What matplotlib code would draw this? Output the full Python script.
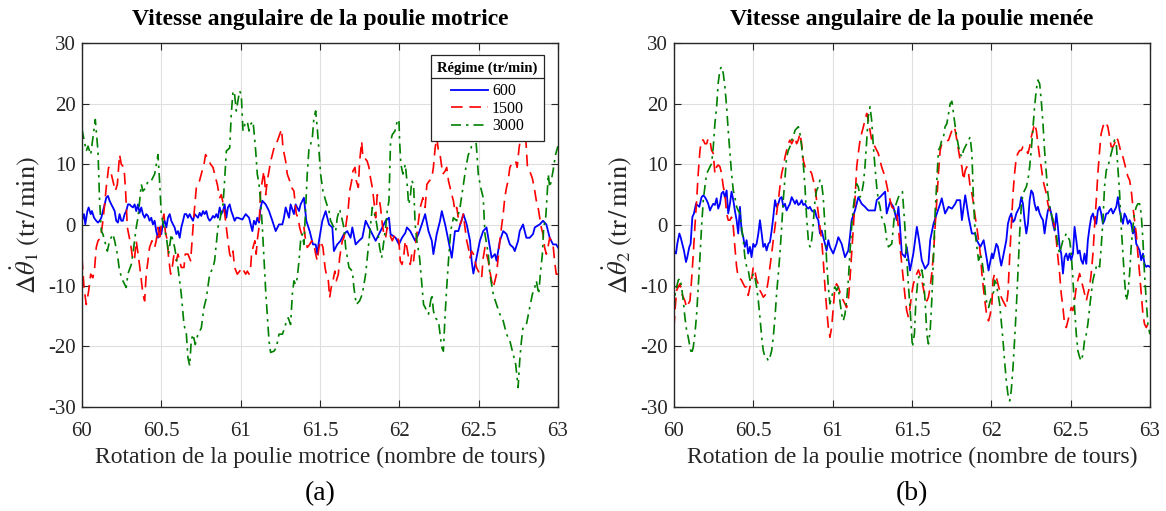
import matplotlib
matplotlib.use('Agg')
import matplotlib.pyplot as plt
from matplotlib.lines import Line2D

plt.rcParams['font.family'] = ['Liberation Serif', 'DejaVu Serif']
plt.rcParams['mathtext.fontset'] = 'stix'
plt.rcParams['axes.unicode_minus'] = False

# ---------------- data (rotation [tours], delta speed [tr/min]) ----------------
series_labels = ['600', '1500', '3000']
x_ticks = [60, 60.5, 61, 61.5, 62, 62.5, 63]
x_tick_labels = ['60', '60.5', '61', '61.5', '62', '62.5', '63']
y_ticks = [-30, -20, -10, 0, 10, 20, 30]

# (a) poulie motrice
a_600 = [(60.000,0.7),(60.013,1.8),(60.021,0.1),(60.034,2.3),(60.042,2.9),(60.055,1.8),(60.063,2.3),(60.076,1.2),(60.090,0.7),(60.101,0.4),(60.111,0.7),(60.122,1.2),(60.132,2.3),(60.143,3.4),(60.153,4.5),(60.164,4.8),(60.174,4.0),(60.185,3.4),(60.195,2.9),(60.206,2.3),(60.216,0.7),(60.227,0.4),(60.237,1.8),(60.248,0.7),(60.258,0.7),(60.269,1.8),(60.279,2.3),(60.290,3.4),(60.300,3.4),(60.311,3.1),(60.321,2.9),(60.332,3.4),(60.342,2.3),(60.353,3.4),(60.363,2.0),(60.374,2.9),(60.384,1.8),(60.395,1.2),(60.405,1.8),(60.416,1.5),(60.426,0.7),(60.437,1.2),(60.447,0.1),(60.458,0.7),(60.468,-1.0),(60.479,-2.1),(60.489,-0.4),(60.500,-1.5),(60.510,0.1),(60.521,0.7),(60.532,-0.4),(60.542,1.2),(60.553,1.8),(60.563,0.7),(60.574,0.1),(60.584,-0.4),(60.595,-1.5),(60.605,-1.0),(60.616,-2.1),(60.626,-0.4),(60.637,0.7),(60.647,1.8),(60.658,1.8),(60.668,1.2),(60.679,1.8),(60.689,1.2),(60.700,0.7),(60.710,1.8),(60.721,1.5),(60.731,1.2),(60.742,2.0),(60.752,1.5),(60.763,2.3),(60.773,1.8),(60.784,2.3),(60.794,1.2),(60.805,0.7),(60.815,1.0),(60.826,1.5),(60.836,1.2),(60.847,1.8),(60.857,1.2),(60.868,2.9),(60.878,1.8),(60.889,2.3),(60.899,3.4),(60.910,1.2),(60.920,2.9),(60.931,3.4),(60.941,2.3),(60.952,1.5),(60.962,0.7),(60.973,1.2),(60.983,1.2),
         (61.011,0.9),(61.032,1.8),(61.053,1.2),(61.074,-1.0),(61.084,0.7),(61.095,0.1),(61.105,1.2),(61.116,0.4),(61.126,2.9),(61.137,4.0),(61.158,3.4),(61.179,2.3),(61.200,0.7),(61.221,-1.0),(61.242,0.1),(61.263,0.1),(61.273,1.2),(61.284,2.9),(61.305,1.2),(61.315,3.4),(61.336,1.8),(61.347,3.4),(61.368,2.3),(61.378,3.4),(61.399,4.5),(61.414,0.7),(61.435,-1.0),(61.456,-3.2),(61.473,-3.2),(61.483,-4.8),(61.494,-2.6),(61.515,0.7),(61.536,2.3),(61.557,0.1),(61.578,-0.4),(61.588,-4.3),(61.609,-3.2),(61.630,-2.6),(61.651,-1.5),(61.672,-1.0),(61.693,-2.1),(61.704,-0.4),(61.725,-3.2),(61.746,-2.6),(61.767,-2.1),(61.788,0.7),(61.809,-0.4),(61.830,-1.5),(61.851,-2.6),(61.872,-1.5),(61.893,-0.4),(61.914,0.7),(61.935,1.2),(61.945,-1.5),(61.977,-2.1),(61.998,-3.2),
         (62.017,-2.1),(62.038,-1.3),(62.048,-0.4),(62.069,-1.0),(62.090,-2.1),(62.100,-2.6),(62.121,-1.5),(62.142,0.1),(62.163,1.8),(62.184,-1.0),(62.205,-2.6),(62.215,-4.8),(62.236,-1.5),(62.257,0.7),(62.268,2.3),(62.289,0.1),(62.310,-2.6),(62.331,-5.4),(62.351,-1.0),(62.372,-1.0),(62.404,1.8),(62.425,0.1),(62.446,-2.6),(62.456,-5.9),(62.467,-8.0),(62.487,-5.4),(62.508,-2.6),(62.529,-1.0),(62.550,-0.4),(62.571,-3.7),(62.582,-5.4),(62.603,-4.8),(62.613,-5.9),(62.634,-2.6),(62.655,-1.0),(62.676,-1.5),(62.697,-3.2),(62.718,-3.7),(62.728,-4.3),(62.749,-2.6),(62.759,-1.0),(62.780,0.1),(62.801,-2.1),(62.822,-2.1),(62.843,-1.5),(62.854,-0.4),(62.885,0.1),(62.906,0.7),(62.927,0.1),(62.948,-2.1),(62.969,-3.2),(62.989,-3.2),(63.000,-3.7)]

a_1500 = [(60.000,-5.4),(60.013,-10.3),(60.027,-13.1),(60.042,-10.9),(60.055,-8.1),(60.069,-8.7),(60.080,-7.0),(60.090,-3.7),(60.101,-2.6),(60.118,-2.1),(60.132,0.7),(60.143,3.4),(60.153,6.2),(60.168,9.5),(60.185,8.4),(60.195,7.3),(60.210,5.6),(60.223,6.7),(60.237,11.6),(60.248,10.0),(60.265,9.5),(60.275,5.6),(60.286,-0.4),(60.294,-1.5),(60.307,-3.2),(60.321,-5.9),(60.332,-5.4),(60.342,-2.6),(60.357,-5.4),(60.370,-8.1),(60.384,-11.4),(60.395,-12.5),(60.405,-8.1),(60.416,-5.9),(60.426,-3.7),(60.441,-2.6),(60.458,-3.7),(60.468,-2.6),(60.479,-0.4),(60.489,-2.6),(60.500,0.1),(60.517,1.8),(60.525,-1.0),(60.538,-2.6),(60.546,-5.4),(60.559,-8.1),(60.569,-7.0),(60.580,-4.8),(60.595,-5.9),(60.605,-4.8),(60.616,-5.9),(60.626,-7.0),(60.643,-7.0),(60.651,-4.8),(60.668,-4.8),(60.685,-5.9),(60.700,-0.4),(60.710,2.9),(60.721,6.2),(60.735,6.7),(60.752,8.4),(60.769,10.0),(60.779,11.6),(60.794,11.0),(60.811,10.0),(60.826,9.5),(60.836,8.4),(60.853,6.7),(60.868,4.5),(60.878,5.0),(60.895,2.9),(60.910,-0.4),(60.920,-2.6),(60.931,-4.8),(60.941,-5.4),(60.952,-4.3),(60.962,-7.0),(60.979,-8.1),(60.994,-7.6),
          (61.011,-7.0),(61.021,-7.6),(61.032,-8.1),(61.042,-7.6),(61.053,-8.1),(61.063,-7.0),(61.069,-4.8),(61.078,-3.7),(61.090,-2.6),(61.098,-4.8),(61.107,-2.1),(61.116,-0.4),(61.126,5.6),(61.137,7.3),(61.147,8.9),(61.158,5.0),(61.168,7.3),(61.179,8.9),(61.189,10.5),(61.200,11.6),(61.216,13.3),(61.231,13.8),(61.246,14.9),(61.258,15.8),(61.267,12.7),(61.284,10.5),(61.294,8.4),(61.309,7.3),(61.321,6.2),(61.336,5.6),(61.342,4.0),(61.351,1.8),(61.363,1.2),(61.372,-0.4),(61.384,-1.5),(61.399,-0.4),(61.410,-2.6),(61.420,-3.7),(61.435,-3.2),(61.448,-2.6),(61.462,-3.2),(61.473,-4.8),(61.483,-5.9),(61.494,-3.7),(61.504,-2.6),(61.519,-3.7),(61.532,-7.0),(61.540,-8.1),(61.553,-9.2),(61.561,-12.0),(61.574,-9.8),(61.582,-9.2),(61.594,-7.6),(61.603,-9.2),(61.616,-8.1),(61.624,-5.4),(61.641,-2.6),(61.651,-2.1),(61.662,-0.4),(61.679,2.9),(61.687,5.6),(61.700,7.3),(61.708,8.9),(61.721,9.5),(61.729,7.3),(61.742,6.2),(61.750,10.5),(61.763,13.8),(61.771,11.0),(61.784,11.0),(61.798,10.5),(61.809,9.5),(61.819,7.7),(61.830,6.2),(61.840,4.0),(61.851,1.2),(61.861,5.0),(61.872,4.5),(61.882,2.9),(61.893,0.1),(61.903,-1.5),(61.914,-2.1),(61.924,-0.4),(61.939,-1.5),(61.956,-2.6),(61.973,-1.5),(61.987,-2.1),(61.998,-2.6),
          (62.006,-5.9),(62.017,-6.5),(62.027,-5.4),(62.038,-2.6),(62.048,-3.7),(62.059,-5.4),(62.069,-6.5),(62.079,-4.8),(62.090,-5.9),(62.100,-3.7),(62.111,-1.5),(62.121,0.7),(62.132,2.9),(62.149,4.5),(62.163,2.9),(62.174,6.7),(62.190,7.3),(62.205,7.7),(62.215,9.5),(62.226,12.7),(62.236,14.4),(62.247,12.2),(62.257,11.6),(62.274,8.4),(62.289,8.9),(62.299,9.5),(62.310,7.3),(62.320,6.2),(62.331,5.0),(62.341,4.0),(62.351,2.3),(62.362,2.9),(62.372,1.2),(62.383,0.1),(62.393,0.7),(62.404,1.8),(62.414,-0.4),(62.425,-2.6),(62.435,-3.7),(62.446,-5.4),(62.456,-4.3),(62.467,-4.8),(62.477,-5.9),(62.487,-7.0),(62.498,-7.6),(62.508,-8.1),(62.519,-8.7),(62.529,-5.4),(62.540,-3.7),(62.550,-4.8),(62.561,-5.9),(62.571,-7.6),(62.582,-9.2),(62.592,-10.3),(62.603,-9.2),(62.613,-8.1),(62.623,-5.4),(62.634,-2.6),(62.644,-0.4),(62.655,1.8),(62.665,4.5),(62.676,6.2),(62.686,7.3),(62.697,9.5),(62.707,10.0),(62.722,10.0),(62.734,10.5),(62.743,9.5),(62.755,12.7),(62.766,14.4),(62.776,16.0),(62.787,15.5),(62.797,14.4),(62.808,9.5),(62.822,8.9),(62.839,7.7),(62.854,5.6),(62.864,4.0),(62.875,2.9),(62.885,1.2),(62.895,-0.4),(62.906,-1.5),(62.916,-3.7),(62.927,-4.8),(62.937,-3.7),(62.948,-2.1),(62.958,-2.6),(62.969,-3.2),(62.979,-5.9),(62.989,-8.1),(63.000,-8.1)]

a_3000 = [(60.000,15.8),(60.027,12.2),(60.038,13.0),(60.055,11.6),(60.084,17.4),(60.101,12.1),(60.111,4.0),(60.122,-1.0),(60.132,-1.5),(60.143,-2.6),(60.160,-4.3),(60.174,-2.6),(60.195,-1.5),(60.206,-2.6),(60.223,-4.8),(60.237,-7.6),(60.258,-9.2),(60.279,-10.3),(60.290,-8.0),(60.311,-6.5),(60.321,-4.8),(60.342,-0.4),(60.353,1.2),(60.374,6.7),(60.384,5.6),(60.405,6.2),(60.416,7.3),(60.437,7.3),(60.458,8.4),(60.479,11.6),(60.489,7.3),(60.500,1.8),(60.517,-0.4),(60.532,-2.0),(60.546,-4.8),(60.563,-1.5),(60.574,-2.6),(60.584,-3.7),(60.605,-7.0),(60.626,-11.4),(60.643,-16.4),(60.658,-18.0),(60.668,-21.9),(60.679,-23.2),(60.689,-19.0),(60.700,-18.0),(60.714,-19.7),(60.731,-18.0),(60.752,-17.0),(60.769,-13.6),(60.784,-12.0),(60.805,-8.1),(60.826,-7.0),(60.836,-5.9),(60.857,-0.4),(60.868,0.7),(60.889,3.4),(60.899,7.3),(60.910,12.2),(60.931,12.7),(60.941,18.2),(60.952,22.1),(60.962,21.5),(60.973,18.8),(60.983,20.5),(60.994,22.1),(61.004,21.5),
          (61.015,15.5),(61.027,16.6),(61.042,17.1),(61.053,15.5),(61.063,16.6),(61.078,17.1),(61.084,15.5),(61.095,12.2),(61.105,8.4),(61.116,6.7),(61.126,4.0),(61.137,-0.4),(61.147,-5.4),(61.158,-10.9),(61.168,-14.7),(61.179,-19.1),(61.189,-21.0),(61.210,-20.8),(61.225,-20.2),(61.242,-18.0),(61.263,-18.0),(61.279,-16.9),(61.288,-15.8),(61.300,-15.3),(61.315,-16.4),(61.326,-11.4),(61.336,-9.2),(61.347,-9.8),(61.357,-8.7),(61.368,-5.9),(61.378,-2.6),(61.389,-1.5),(61.399,-3.2),(61.410,2.9),(61.420,8.4),(61.431,12.7),(61.441,13.3),(61.452,14.4),(61.462,17.7),(61.473,18.8),(61.483,16.0),(61.494,12.2),(61.504,8.4),(61.519,5.6),(61.536,4.0),(61.557,2.3),(61.567,0.7),(61.588,-0.4),(61.599,-1.0),(61.609,1.2),(61.624,2.6),(61.637,1.2),(61.651,-0.4),(61.662,-3.7),(61.683,-7.0),(61.704,-7.6),(61.714,-10.3),(61.729,-13.1),(61.750,-12.5),(61.767,-11.4),(61.788,-8.1),(61.805,-3.7),(61.819,0.1),(61.830,2.9),(61.851,1.2),(61.861,-0.4),(61.876,-3.7),(61.889,-5.4),(61.903,-2.6),(61.914,-0.4),(61.924,2.3),(61.935,4.0),(61.945,13.8),(61.956,14.9),(61.973,15.5),(61.987,17.1),(61.998,17.4),
          (62.002,13.8),(62.010,10.0),(62.023,8.4),(62.038,10.0),(62.048,7.3),(62.059,3.4),(62.069,4.5),(62.079,7.3),(62.090,6.7),(62.100,0.1),(62.111,-2.6),(62.128,-5.4),(62.142,-9.8),(62.153,-13.1),(62.163,-13.6),(62.184,-14.7),(62.205,-11.4),(62.215,-14.1),(62.226,-15.3),(62.247,-15.8),(62.257,-18.0),(62.268,-20.2),(62.278,-20.8),(62.289,-14.7),(62.299,-10.3),(62.310,-5.9),(62.324,-1.0),(62.341,1.2),(62.362,0.7),(62.383,2.9),(62.404,6.7),(62.420,9.5),(62.435,11.6),(62.450,12.2),(62.467,14.9),(62.477,15.5),(62.487,12.7),(62.498,8.4),(62.513,6.2),(62.529,4.5),(62.540,-1.5),(62.561,-4.8),(62.571,-8.1),(62.592,-11.4),(62.613,-13.1),(62.634,-14.7),(62.655,-15.8),(62.676,-18.0),(62.697,-19.1),(62.718,-21.3),(62.734,-23.0),(62.749,-26.8),(62.759,-22.4),(62.770,-19.1),(62.780,-16.9),(62.801,-16.4),(62.822,-13.6),(62.839,-11.4),(62.854,-10.3),(62.864,-9.2),(62.879,-11.4),(62.889,-8.1),(62.902,-4.8),(62.910,-0.4),(62.923,1.2),(62.931,4.5),(62.939,8.4),(62.948,6.2),(62.958,7.3),(62.969,8.9),(62.985,11.6),(63.000,13.0)]

# (b) poulie menee
b_600 = [(60.000,-4.2),(60.013,-4.7),(60.021,-3.1),(60.034,-1.4),(60.042,-2.0),(60.055,-3.4),(60.063,-4.2),(60.076,-6.1),(60.084,-5.3),(60.097,-3.6),(60.105,-3.1),(60.116,1.3),(60.126,1.9),(60.139,3.5),(60.147,3.3),(60.160,3.0),(60.174,4.6),(60.185,4.9),(60.195,4.6),(60.206,4.1),(60.216,3.5),(60.227,2.4),(60.237,3.0),(60.248,3.5),(60.258,3.3),(60.269,4.4),(60.279,2.7),(60.290,3.5),(60.300,5.2),(60.311,5.5),(60.321,4.6),(60.332,5.7),(60.342,1.9),(60.353,3.5),(60.363,5.5),(60.374,4.1),(60.384,2.4),(60.395,0.8),(60.405,-1.4),(60.416,3.0),(60.426,-0.9),(60.437,-2.0),(60.447,-3.6),(60.458,-2.5),(60.468,-4.7),(60.479,-3.6),(60.489,-5.3),(60.500,-3.1),(60.510,-3.6),(60.521,-3.1),(60.532,-1.4),(60.542,0.8),(60.553,-1.4),(60.563,-3.6),(60.574,-3.1),(60.584,-4.2),(60.595,-3.1),(60.605,-2.8),(60.616,-0.9),(60.626,1.3),(60.637,4.1),(60.647,3.0),(60.658,3.5),(60.668,4.4),(60.679,4.6),(60.689,3.0),(60.700,3.5),(60.710,2.4),(60.721,3.0),(60.731,3.5),(60.742,4.6),(60.752,4.1),(60.763,3.5),(60.773,4.1),(60.784,3.3),(60.794,3.5),(60.805,4.1),(60.815,3.3),(60.826,3.5),(60.836,3.0),(60.847,2.7),(60.857,3.0),(60.868,2.4),(60.878,2.2),(60.889,2.4),(60.899,1.3),(60.910,0.8),(60.920,-1.4),(60.931,-0.9),(60.941,-2.0),(60.952,-3.1),(60.962,-4.2),(60.973,-2.5),(60.983,-3.6),(60.994,-4.2),(61.004,-4.7),
         (61.025,-3.1),(61.036,-2.0),(61.057,-3.1),(61.078,-5.3),(61.099,-4.2),(61.109,-2.0),(61.120,0.8),(61.141,2.4),(61.162,4.6),(61.183,3.5),(61.204,3.0),(61.225,2.4),(61.246,2.4),(61.267,2.4),(61.278,4.1),(61.299,4.6),(61.320,5.2),(61.331,5.5),(61.341,1.9),(61.362,3.8),(61.383,3.0),(61.404,0.8),(61.415,3.0),(61.425,-0.3),(61.436,-4.7),(61.457,-5.3),(61.467,-3.6),(61.488,-7.5),(61.509,-4.7),(61.520,-2.5),(61.531,-0.3),(61.545,-2.5),(61.562,-5.8),(61.583,-7.2),(61.604,-6.4),(61.615,-2.5),(61.636,0.2),(61.657,1.9),(61.678,3.5),(61.688,4.4),(61.709,1.9),(61.731,3.0),(61.752,2.7),(61.773,3.5),(61.783,4.1),(61.804,4.1),(61.815,0.8),(61.836,4.9),(61.857,1.3),(61.878,-1.4),(61.899,-1.4),(61.909,-2.5),(61.931,-3.6),(61.952,-2.5),(61.973,-5.8),(61.983,-7.5),(62.004,-4.7),
         (62.011,-5.5),(62.021,-4.4),(62.032,-3.1),(62.042,-3.6),(62.053,-5.3),(62.063,-6.7),(62.074,-5.3),(62.095,-2.5),(62.105,0.2),(62.116,1.3),(62.126,1.9),(62.137,0.5),(62.147,0.8),(62.158,1.9),(62.179,3.0),(62.189,4.6),(62.200,3.5),(62.210,0.8),(62.221,-1.4),(62.231,0.2),(62.242,4.1),(62.252,5.7),(62.263,5.2),(62.273,3.5),(62.284,2.4),(62.294,3.0),(62.305,1.9),(62.315,1.3),(62.326,0.8),(62.336,-1.4),(62.347,0.8),(62.357,2.4),(62.368,3.0),(62.378,1.9),(62.389,0.2),(62.399,-0.9),(62.410,1.9),(62.420,-0.3),(62.431,-3.6),(62.441,-4.7),(62.452,-8.0),(62.462,-5.3),(62.473,-4.7),(62.483,-5.8),(62.494,-4.7),(62.504,-5.8),(62.515,-4.7),(62.525,-0.3),(62.536,-2.5),(62.546,-4.7),(62.557,-4.2),(62.567,-5.8),(62.578,-6.4),(62.588,-4.7),(62.599,-6.4),(62.609,-2.5),(62.620,-0.3),(62.630,1.3),(62.641,1.9),(62.651,0.8),(62.662,0.2),(62.672,2.4),(62.683,3.0),(62.693,1.9),(62.704,0.2),(62.714,0.8),(62.725,1.9),(62.735,1.9),(62.746,2.4),(62.756,2.7),(62.767,1.9),(62.777,2.4),(62.788,3.0),(62.798,4.6),(62.809,2.4),(62.819,1.3),(62.830,0.2),(62.840,1.9),(62.851,1.3),(62.861,0.2),(62.872,0.8),(62.882,0.2),(62.893,-1.4),(62.903,-0.3),(62.914,-3.1),(62.924,-3.6),(62.935,-4.2),(62.945,-5.8),(62.956,-4.7),(62.966,-6.4),(62.977,-6.9),(62.987,-6.7),(63.000,-6.9)]

b_1500 = [(60.000,-16.9),(60.008,-13.6),(60.017,-10.8),(60.027,-10.2),(60.038,-9.7),(60.048,-11.3),(60.059,-11.9),(60.069,-12.5),(60.080,-13.6),(60.090,-13.0),(60.101,-12.5),(60.111,-9.1),(60.122,-4.7),(60.132,-0.3),(60.143,4.1),(60.153,8.5),(60.164,12.3),(60.174,14.0),(60.185,14.0),(60.195,13.4),(60.206,13.4),(60.216,14.3),(60.227,14.0),(60.237,12.3),(60.248,11.8),(60.258,8.5),(60.269,9.6),(60.279,9.9),(60.290,9.6),(60.300,8.5),(60.311,6.3),(60.321,5.2),(60.332,1.9),(60.342,0.8),(60.353,0.8),(60.363,1.3),(60.374,-0.3),(60.384,-3.6),(60.395,-6.9),(60.405,-8.6),(60.416,-8.8),(60.426,-9.1),(60.437,-9.7),(60.447,-10.2),(60.458,-10.2),(60.468,-11.6),(60.479,-10.2),(60.489,-9.1),(60.500,-6.9),(60.510,-7.5),(60.521,-9.1),(60.532,-9.7),(60.542,-10.8),(60.553,-11.3),(60.563,-11.9),(60.574,-11.6),(60.584,-10.8),(60.595,-9.1),(60.605,-6.9),(60.616,-4.7),(60.626,-2.5),(60.637,-0.3),(60.647,1.9),(60.658,4.1),(60.668,6.3),(60.679,8.5),(60.689,9.6),(60.700,11.2),(60.710,12.3),(60.721,13.4),(60.731,14.0),(60.742,13.4),(60.752,14.0),(60.763,14.5),(60.773,13.4),(60.784,14.0),(60.794,15.1),(60.805,13.4),(60.815,10.7),(60.826,9.6),(60.836,9.6),(60.847,9.4),(60.857,9.0),(60.868,8.5),(60.878,7.4),(60.889,6.3),(60.899,4.1),(60.910,1.9),(60.920,-0.3),(60.931,-2.5),(60.941,-5.8),(60.952,-10.2),(60.962,-13.6),(60.973,-16.9),(60.983,-18.5),(60.994,-16.9),(61.004,-13.6),(61.015,-10.2),(61.025,-9.7),
          (61.036,-10.2),(61.057,-11.9),(61.078,-13.0),(61.088,-13.6),(61.099,-12.5),(61.109,-9.1),(61.120,-4.7),(61.131,-0.3),(61.141,4.1),(61.152,9.6),(61.162,11.8),(61.173,14.0),(61.183,15.1),(61.194,16.2),(61.204,17.3),(61.215,18.4),(61.225,17.3),(61.236,15.6),(61.246,14.0),(61.257,13.4),(61.267,12.9),(61.288,11.8),(61.309,9.6),(61.331,7.9),(61.352,5.2),(61.373,3.0),(61.394,2.4),(61.404,1.9),(61.415,-0.3),(61.425,-3.6),(61.436,-6.4),(61.446,-9.1),(61.457,-11.9),(61.467,-14.1),(61.478,-15.2),(61.488,-13.6),(61.499,-11.3),(61.509,-9.7),(61.531,-8.0),(61.541,-7.4),(61.562,-9.1),(61.583,-11.9),(61.594,-12.5),(61.604,-11.9),(61.615,-10.2),(61.625,-8.0),(61.636,-4.7),(61.646,-0.3),(61.657,4.1),(61.667,8.5),(61.678,12.3),(61.688,13.4),(61.709,13.7),(61.731,14.0),(61.752,15.6),(61.762,16.2),(61.773,15.6),(61.783,14.0),(61.794,12.3),(61.804,10.7),(61.815,9.6),(61.825,7.4),(61.836,9.0),(61.846,9.6),(61.857,8.5),(61.867,6.3),(61.878,5.2),(61.888,3.5),(61.899,1.3),(61.909,-0.3),(61.920,-2.5),(61.931,-4.7),(61.941,-8.0),(61.952,-10.8),(61.962,-13.0),(61.973,-15.2),(61.983,-15.8),(61.994,-14.7),(62.004,-13.0),
          (62.011,-9.1),(62.021,-8.0),(62.032,-8.6),(62.042,-9.7),(62.053,-10.8),(62.063,-11.9),(62.074,-12.5),(62.084,-13.0),(62.095,-13.6),(62.105,-11.3),(62.116,-5.3),(62.126,-0.3),(62.137,5.2),(62.147,8.5),(62.158,11.2),(62.168,11.8),(62.179,12.3),(62.189,12.3),(62.200,12.9),(62.210,12.9),(62.221,12.3),(62.231,11.8),(62.242,12.9),(62.252,14.5),(62.263,15.6),(62.273,16.7),(62.284,15.6),(62.294,13.4),(62.305,11.2),(62.315,9.6),(62.326,7.4),(62.336,6.3),(62.347,5.2),(62.357,3.5),(62.368,2.4),(62.378,1.9),(62.389,0.8),(62.399,-0.3),(62.410,-2.5),(62.420,-5.3),(62.431,-8.0),(62.441,-11.3),(62.452,-13.6),(62.462,-16.3),(62.473,-16.9),(62.483,-15.8),(62.494,-14.7),(62.504,-13.6),(62.515,-14.1),(62.525,-12.5),(62.536,-10.2),(62.546,-9.1),(62.557,-8.0),(62.567,-9.1),(62.578,-10.2),(62.588,-11.3),(62.599,-12.5),(62.609,-11.3),(62.620,-10.2),(62.630,-8.0),(62.641,-4.7),(62.651,-0.3),(62.662,4.1),(62.672,8.5),(62.683,12.3),(62.693,15.1),(62.704,16.2),(62.714,17.0),(62.725,16.7),(62.735,16.2),(62.746,14.5),(62.756,12.9),(62.767,12.9),(62.777,13.4),(62.788,14.5),(62.798,14.0),(62.809,12.9),(62.819,11.8),(62.830,11.2),(62.840,10.2),(62.851,9.0),(62.861,8.0),(62.872,7.4),(62.882,5.8),(62.893,3.0),(62.903,0.8),(62.914,-1.4),(62.924,-4.7),(62.935,-8.0),(62.945,-11.3),(62.956,-14.7),(62.966,-16.3),(62.977,-16.9),(62.987,-16.3),(63.000,-16.9)]

b_3000 = [(60.000,-14.1),(60.008,-11.3),(60.017,-10.2),(60.027,-9.1),(60.038,-8.8),(60.048,-10.2),(60.059,-12.5),(60.069,-15.2),(60.080,-17.4),(60.090,-18.5),(60.101,-20.1),(60.111,-21.3),(60.122,-20.1),(60.132,-18.0),(60.143,-14.7),(60.153,-10.2),(60.164,-5.3),(60.174,-0.3),(60.185,4.1),(60.195,6.3),(60.206,8.5),(60.216,9.0),(60.227,9.6),(60.237,10.1),(60.248,12.9),(60.258,16.7),(60.269,19.5),(60.279,23.4),(60.290,25.6),(60.300,26.1),(60.311,25.0),(60.321,22.8),(60.332,19.5),(60.342,15.6),(60.353,11.8),(60.363,8.5),(60.374,5.7),(60.384,4.6),(60.395,3.0),(60.405,2.4),(60.416,1.9),(60.426,-0.3),(60.437,-2.5),(60.447,-5.3),(60.458,-6.9),(60.468,-7.4),(60.479,-9.1),(60.489,-9.1),(60.500,-8.0),(60.510,-8.6),(60.521,-10.2),(60.532,-12.5),(60.542,-15.2),(60.553,-18.5),(60.563,-20.7),(60.574,-21.8),(60.584,-21.8),(60.595,-22.4),(60.605,-21.8),(60.616,-20.7),(60.626,-18.5),(60.637,-15.2),(60.647,-11.3),(60.658,-8.0),(60.668,-4.7),(60.679,-0.3),(60.689,4.1),(60.700,7.9),(60.710,11.2),(60.721,12.3),(60.731,12.9),(60.742,14.0),(60.752,14.5),(60.763,15.6),(60.773,15.9),(60.784,16.2),(60.794,15.1),(60.805,12.9),(60.815,10.1),(60.826,6.3),(60.836,1.3),(60.847,-2.5),(60.857,-3.6),(60.868,-2.5),(60.878,0.2),(60.889,4.1),(60.899,5.7),(60.910,6.3),(60.920,7.4),(60.931,6.8),(60.941,4.6),(60.952,-0.3),(60.962,-5.8),(60.973,-10.2),(60.983,-13.0),(60.994,-11.9),(61.004,-10.8),(61.015,-10.2),(61.025,-10.8),
          (61.036,-10.2),(61.046,-12.5),(61.057,-14.7),(61.067,-15.8),(61.078,-14.7),(61.088,-12.5),(61.099,-9.1),(61.109,-4.7),(61.120,-0.3),(61.131,3.0),(61.141,5.2),(61.152,6.8),(61.162,6.3),(61.173,4.6),(61.183,5.2),(61.194,6.8),(61.204,9.6),(61.215,14.0),(61.225,17.9),(61.236,19.5),(61.246,17.3),(61.257,12.9),(61.267,9.6),(61.278,6.3),(61.288,4.1),(61.299,3.0),(61.309,1.3),(61.320,0.8),(61.331,-0.3),(61.341,-2.5),(61.352,-3.6),(61.373,-3.1),(61.383,-0.3),(61.394,3.0),(61.415,4.6),(61.440,5.5),(61.453,0.8),(61.467,-5.3),(61.478,-10.0),(61.488,-13.6),(61.503,-20.1),(61.516,-17.9),(61.524,-13.0),(61.537,-9.1),(61.552,-8.0),(61.562,-7.4),(61.573,-9.1),(61.583,-12.5),(61.594,-18.0),(61.604,-19.6),(61.615,-17.4),(61.625,-12.5),(61.636,-5.3),(61.646,1.9),(61.657,7.4),(61.667,12.3),(61.678,12.9),(61.688,14.0),(61.699,14.5),(61.709,16.2),(61.720,16.7),(61.731,18.4),(61.741,20.0),(61.752,20.4),(61.762,18.4),(61.773,16.2),(61.783,14.5),(61.794,12.9),(61.804,11.8),(61.815,11.2),(61.825,12.3),(61.836,12.9),(61.846,13.4),(61.857,14.0),(61.867,14.5),(61.878,11.8),(61.888,4.1),(61.899,-1.4),(61.909,-3.6),(61.920,-5.8),(61.931,-4.7),(61.941,-5.8),(61.952,-8.0),(61.962,-11.3),(61.973,-13.0),(61.983,-13.6),(61.994,-12.5),
          (62.015,-11.0),(62.021,-9.1),(62.032,-9.7),(62.042,-11.3),(62.053,-13.0),(62.063,-15.8),(62.074,-19.0),(62.084,-22.4),(62.095,-25.7),(62.105,-27.9),(62.116,-29.0),(62.126,-27.3),(62.137,-23.5),(62.147,-19.0),(62.158,-13.6),(62.168,-8.0),(62.179,-1.4),(62.189,3.0),(62.200,5.2),(62.210,5.7),(62.221,6.3),(62.231,7.4),(62.242,9.6),(62.252,12.3),(62.263,16.2),(62.273,19.5),(62.284,22.3),(62.294,23.9),(62.305,23.3),(62.315,20.6),(62.326,16.7),(62.336,12.3),(62.347,8.5),(62.357,5.2),(62.368,3.0),(62.378,1.9),(62.389,0.8),(62.399,-0.3),(62.410,-1.4),(62.420,-3.6),(62.431,-4.7),(62.441,-3.6),(62.452,-2.5),(62.462,-2.0),(62.473,-1.4),(62.483,-2.0),(62.494,-2.5),(62.504,-4.7),(62.515,-9.1),(62.525,-13.6),(62.536,-18.0),(62.546,-20.7),(62.557,-21.8),(62.567,-22.4),(62.578,-21.3),(62.588,-19.0),(62.599,-18.0),(62.609,-16.3),(62.620,-13.6),(62.630,-11.3),(62.641,-9.1),(62.651,-8.0),(62.662,-6.9),(62.672,-6.4),(62.683,-6.9),(62.693,-3.6),(62.704,0.8),(62.714,6.3),(62.725,9.0),(62.735,9.6),(62.746,10.7),(62.756,11.8),(62.767,12.9),(62.777,14.0),(62.788,13.4),(62.798,9.6),(62.809,5.2),(62.819,-0.3),(62.830,-4.7),(62.840,-9.1),(62.851,-12.5),(62.861,-11.3),(62.872,-8.0),(62.882,-3.6),(62.893,-0.3),(62.903,1.9),(62.914,3.0),(62.924,3.5),(62.935,3.5),(62.945,1.9),(62.956,-2.5),(62.966,-8.0),(62.977,-12.5),(62.987,-16.3),(63.000,-18.0)]

titles = ['Vitesse angulaire de la poulie motrice', 'Vitesse angulaire de la poulie menée']
ylabels = [r'$\Delta\dot{\theta}_1\ (\mathrm{tr}\,/\,\mathrm{min})$',
           r'$\Delta\dot{\theta}_2\ (\mathrm{tr}\,/\,\mathrm{min})$']
xlabel = 'Rotation de la poulie motrice (nombre de tours)'
panel_tags = ['(a)', '(b)']
legend_title = 'Régime (tr/min)'

# ---------------- figure ----------------
colors = ['#0000ff', '#ff0000', '#008000']
styles = ['-', (0, (7, 4)), (0, (6, 3, 1.5, 3))]
widths = [1.3, 1.2, 1.2]

fig = plt.figure(figsize=(11.66, 5.11), dpi=100)
axes = [fig.add_axes([0.0703, 0.2035, 0.4082, 0.7123]),
        fig.add_axes([0.5780, 0.2035, 0.4082, 0.7123])]
panels = [[a_600, a_1500, a_3000], [b_600, b_1500, b_3000]]

spine_col = '#262626'
for i, ax in enumerate(axes):
    for s, data in enumerate(panels[i]):
        xs = [p[0] for p in data]
        ys = [p[1] for p in data]
        ax.plot(xs, ys, color=colors[s], ls=styles[s], lw=widths[s],
                label=series_labels[s])
    ax.set_xlim(60, 63)
    ax.set_ylim(-30, 30)
    ax.set_xticks(x_ticks)
    ax.set_xticklabels(x_tick_labels)
    ax.set_yticks(y_ticks)
    ax.grid(True, color='#dfdfdf', lw=0.8)
    ax.set_axisbelow(True)
    ax.tick_params(direction='in', top=True, right=True, labelsize=15,
                   length=5, width=0.8, color=spine_col, labelcolor='#262626')
    ax.tick_params(axis='x', pad=11)
    ax.tick_params(axis='y', pad=4.5)
    for sp in ax.spines.values():
        sp.set_color(spine_col)
        sp.set_linewidth(1.0)
    ax.set_title(titles[i], fontsize=17, fontweight='bold', pad=13)
    ax.set_xlabel(xlabel, fontsize=17, color='#262626', labelpad=4)
    ax.set_ylabel(ylabels[i], fontsize=19, color='#262626', labelpad=4)
    bb = ax.get_position()
    fig.text((bb.x0 + bb.x1) / 2, 0.035, panel_tags[i], ha='center', va='center', fontsize=20)

leg = axes[0].legend(loc='upper right', bbox_to_anchor=(0.971, 0.967), title=legend_title,
                     fontsize=11.5, title_fontproperties={'weight': 'bold', 'size': 10.5},
                     frameon=True, fancybox=False, edgecolor='#262626', framealpha=1,
                     handlelength=2.3, borderpad=0.4, labelspacing=0.1, handletextpad=0.25,
                     borderaxespad=0, alignment='center')
leg.get_frame().set_linewidth(0.9)
leg._legend_box.sep = 6

fig.canvas.draw()
lb = leg.get_window_extent()
tb = leg.get_title().get_window_extent()
inv = fig.transFigure.inverted()
ysep = tb.y0 - 3
(x0f, yf) = inv.transform((lb.x0, ysep))
(x1f, _) = inv.transform((lb.x1, ysep))
fig.add_artist(Line2D([x0f, x1f], [yf, yf], transform=fig.transFigure,
                      color='#262626', lw=0.9))

fig.savefig('out.png', dpi=100)
